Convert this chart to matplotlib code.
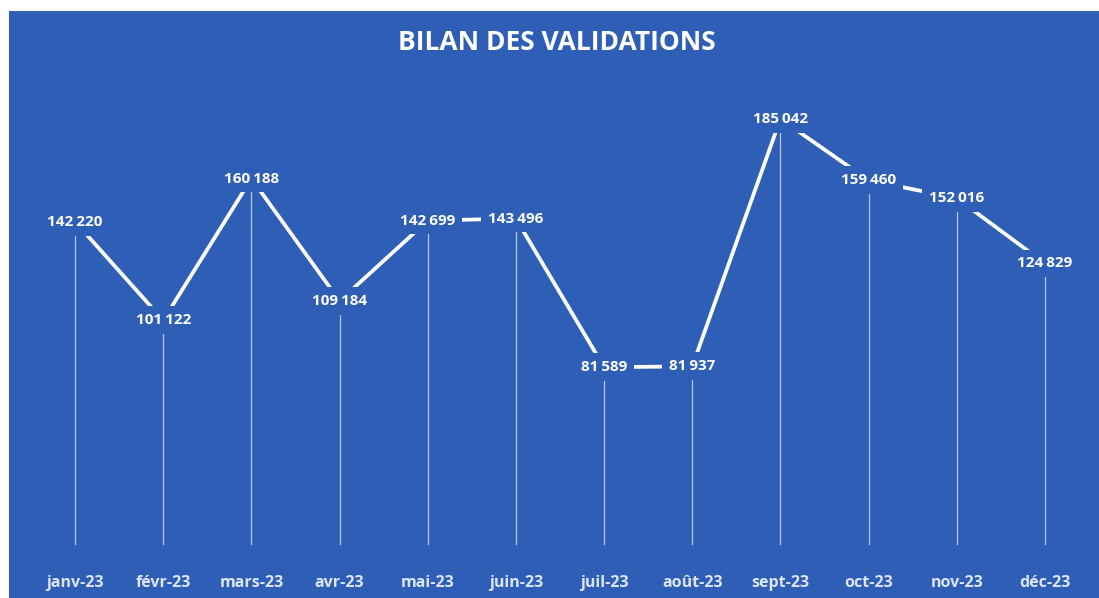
import matplotlib.pyplot as plt
from matplotlib.patches import Rectangle

months = ["janv-23", "févr-23", "mars-23", "avr-23", "mai-23", "juin-23",
          "juil-23", "août-23", "sept-23", "oct-23", "nov-23", "déc-23"]
validations = [142220, 101122, 160188, 109184, 142699, 143496,
               81589, 81937, 185042, 159460, 152016, 124829]

bg = "#2e5eb6"
plt.rcParams['font.family'] = ['Open Sans', 'DejaVu Sans']

fig = plt.figure(figsize=(10.99, 5.98), dpi=100, facecolor="white")
# blue panel behind everything
fig.patches.append(Rectangle((9 / 1099, 0), 1 - 9 / 1099, 1 - 11 / 598,
                             transform=fig.transFigure, facecolor=bg,
                             edgecolor="none", zorder=0))

ax = fig.add_axes([0.0282, 0.0886, 0.9627, 0.7726])
ax.set_zorder(2)
ax.set_facecolor("none")
x = list(range(len(months)))
ymin, ymax = 7500, 200000

ax.vlines(x, ymin, validations, color="white", alpha=0.65, lw=0.9, zorder=1)
ax.plot(x, validations, color="white", lw=2.7, solid_capstyle="butt", zorder=2)

for xi, v in zip(x, validations):
    txt = f"{v:,}".replace(",", "\u2009")
    ax.text(xi, v, txt, ha="center", va="center", color="white",
            fontsize=11, fontweight="bold", zorder=3,
            bbox=dict(boxstyle="square,pad=0.45", fc=bg, ec="none"))

ax.set_xlim(-0.5, len(months) - 0.5)
ax.set_ylim(ymin, ymax)
ax.axis("off")

for xi, m in zip(x, months):
    fig.text(ax.transData.transform((xi, 0))[0] / fig.bbox.width, 1 - 583 / 598, m,
             ha="center", va="center", color="#dce5f6", fontsize=11.5,
             fontweight="bold", zorder=3)

fig.text(557 / 1099, 1 - 43 / 598, "BILAN DES VALIDATIONS", ha="center",
         va="center", color="white", fontsize=19, fontweight="bold", zorder=3)

fig.savefig("out.png", dpi=100, facecolor=fig.get_facecolor())
